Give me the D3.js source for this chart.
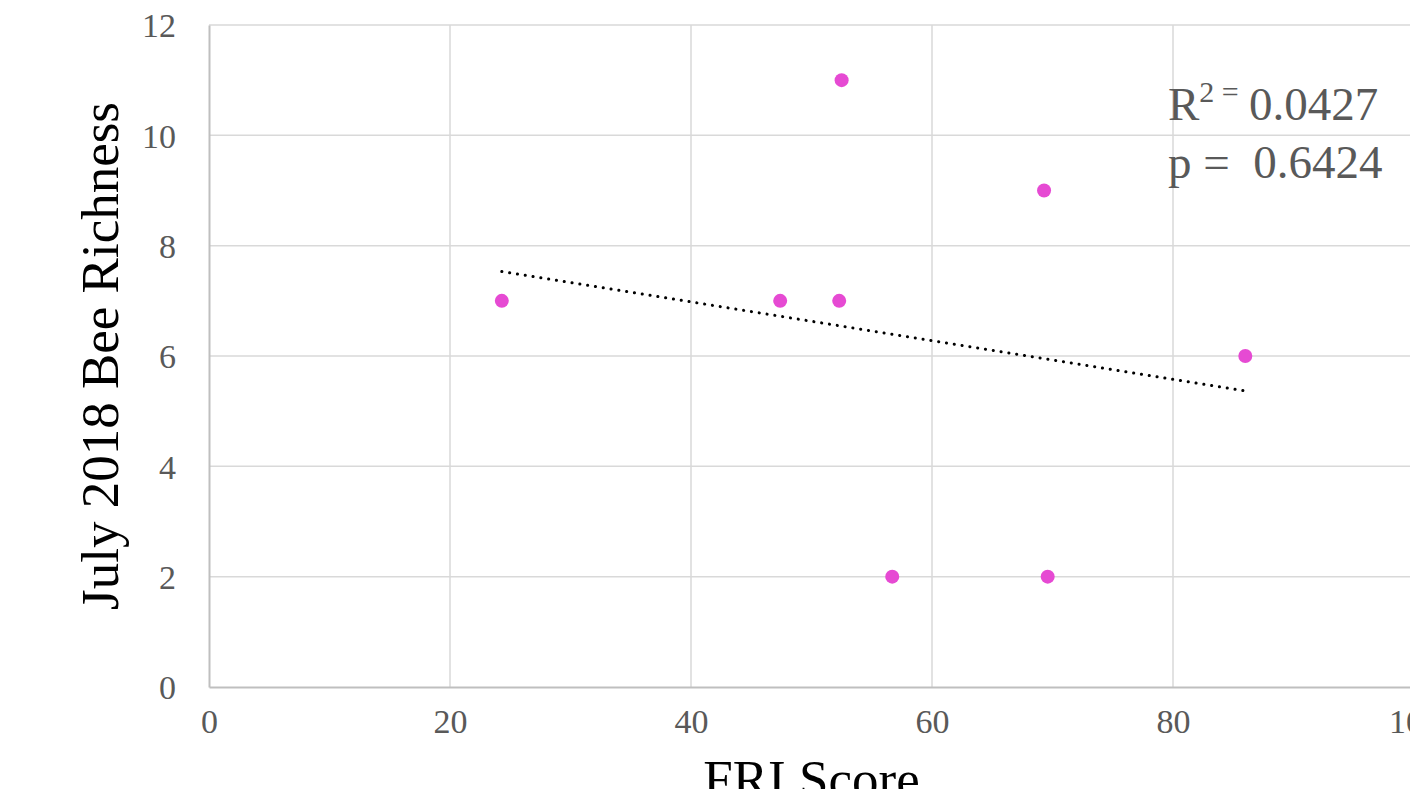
<!DOCTYPE html>
<html><head><meta charset="utf-8">
<script src="https://cdn.jsdelivr.net/npm/d3@7"></script>
<style>html,body{margin:0;padding:0;background:#fff;overflow:hidden}</style>
</head><body>
<svg id="c" width="1410" height="789"></svg>
<script>
const friScore = [24.3, 47.4, 52.3, 52.5, 56.7, 69.3, 69.6, 86.0];
const beeRichness = [7, 7, 7, 11, 2, 9, 2, 6];
const xTicks = [0, 20, 40, 60, 80, 100];
const yTicks = [0, 2, 4, 6, 8, 10, 12];
const xTitle = "FRI Score";
const yTitle = "July 2018 Bee Richness";
const r2Text = "0.0427";
const pText = "0.6424";

const svg = d3.select("#c");
const font = "'Liberation Serif','Times New Roman',serif";
const x = d3.scaleLinear().domain([0, 100]).range([209, 1414]);
const y = d3.scaleLinear().domain([0, 12]).range([687, 25]);

// gridlines
svg.append("g").selectAll("line").data(yTicks.filter(d => d > 0)).join("line")
  .attr("x1", x(0)).attr("x2", 1410).attr("y1", d => y(d)).attr("y2", d => y(d))
  .attr("stroke", "#d9d9d9").attr("stroke-width", 1.5);
svg.append("g").selectAll("line").data(xTicks.filter(d => d > 0)).join("line")
  .attr("y1", y(0)).attr("y2", y(12)).attr("x1", d => x(d)).attr("x2", d => x(d))
  .attr("stroke", "#d9d9d9").attr("stroke-width", 1.5);

// axes
const xAxis = svg.append("g").attr("transform", `translate(0,${y(0)})`)
  .call(d3.axisBottom(x).tickValues(xTicks).tickSize(0).tickPadding(46));
const yAxis = svg.append("g").attr("transform", `translate(${x(0)},0)`)
  .call(d3.axisLeft(y).tickValues(yTicks).tickSize(0).tickPadding(33));
[xAxis, yAxis].forEach(a => {
  a.select(".domain").attr("stroke", "#bfbfbf").attr("stroke-width", 2);
  a.selectAll("text").attr("font-family", font).attr("font-size", 34).attr("fill", "#595959");
});
yAxis.selectAll("text").attr("dy", "0.35em");
xAxis.selectAll("text").attr("dy", "0");

// trend line (least squares)
const n = friScore.length;
const mx = d3.mean(friScore), my = d3.mean(beeRichness);
let sxy = 0, sxx = 0;
for (let i = 0; i < n; i++) { sxy += (friScore[i]-mx)*(beeRichness[i]-my); sxx += (friScore[i]-mx)**2; }
const slope = sxy / sxx, icpt = my - slope * mx;
const x0 = d3.min(friScore), x1 = d3.max(friScore);
svg.append("line")
  .attr("x1", x(x0)).attr("y1", y(icpt + slope * x0))
  .attr("x2", x(x1)).attr("y2", y(icpt + slope * x1))
  .attr("stroke", "#000").attr("stroke-width", 3)
  .attr("stroke-linecap", "round").attr("stroke-dasharray", "0.1 7.8");

// points
svg.append("g").selectAll("circle").data(friScore.map((d, i) => [d, beeRichness[i]])).join("circle")
  .attr("cx", d => x(d[0])).attr("cy", d => y(d[1])).attr("r", 7)
  .attr("fill", "#e64ad3");

// annotation
const t1 = svg.append("text").attr("x", 1168).attr("y", 120)
  .attr("font-family", font).attr("font-size", 47).attr("fill", "#595959");
t1.append("tspan").text("R");
t1.append("tspan").attr("font-size", 30).attr("dy", -18).text("2 = ");
t1.append("tspan").attr("x", 1249).attr("dy", 18).text(r2Text);
svg.append("text").attr("x", 1168).attr("y", 178)
  .attr("font-family", font).attr("font-size", 47).attr("fill", "#595959")
  .attr("xml:space", "preserve").text("p =  " + pText);

// titles
svg.append("text").attr("x", (x(0) + x(100)) / 2).attr("y", 797)
  .attr("text-anchor", "middle").attr("font-family", font).attr("font-size", 53)
  .attr("fill", "#000").text(xTitle);
svg.append("text").attr("transform", `translate(118,${(y(0)+y(12))/2}) rotate(-90)`)
  .attr("text-anchor", "middle").attr("font-family", font).attr("font-size", 53)
  .attr("fill", "#000").text(yTitle);
</script>
</body></html>
